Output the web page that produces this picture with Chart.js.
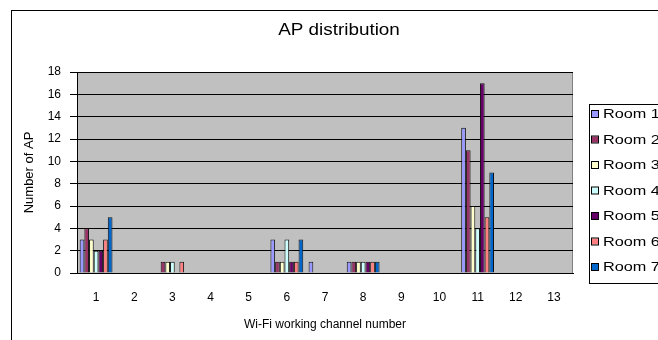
<!DOCTYPE html>
<html lang="en">
<head>
  <meta charset="UTF-8" />
  <title>AP distribution</title>
  <script src="https://cdn.jsdelivr.net/npm/chart.js"></script>
  <style>
    html, body { margin: 0; padding: 0; background: #fff; overflow: hidden; }
    #wrap { width: 658px; height: 340px; overflow: hidden; }
  </style>
</head>
<body>
  <div id="wrap">
    <canvas id="grafico" width="740" height="340"></canvas>
  </div>
  <script>
    // Wi-Fi channels on the x axis
    const channels = ["1", "2", "3", "4", "5", "6", "7", "8", "9", "10", "11", "12", "13"];

    // number of APs seen per channel, one list per room
    const room1 = [3, 0, 0, 0, 0, 3, 1, 1, 0, 0, 13, 0, 0];
    const room2 = [4, 0, 1, 0, 0, 1, 0, 1, 0, 0, 11, 0, 0];
    const room3 = [3, 0, 1, 0, 0, 1, 0, 1, 0, 0, 6, 0, 0];
    const room4 = [2, 0, 1, 0, 0, 3, 0, 1, 0, 0, 4, 0, 0];
    const room5 = [2, 0, 0, 0, 0, 1, 0, 1, 0, 0, 17, 0, 0];
    const room6 = [3, 0, 1, 0, 0, 1, 0, 1, 0, 0, 5, 0, 0];
    const room7 = [5, 0, 0, 0, 0, 3, 0, 1, 0, 0, 9, 0, 0];

    const roomNames = ["Room 1", "Room 2", "Room 3", "Room 4", "Room 5", "Room 6", "Room 7"];
    const roomData = [room1, room2, room3, room4, room5, room6, room7];
    const cores = ["#9999FF", "#993366", "#FFFFCC", "#CCFFFF", "#660066", "#FF8080", "#0066CC"];

    const fonte = "'Liberation Sans', Arial, sans-serif";

    // text a bit stretched sideways, like the original picture
    function textoLargo(ctx, txt, x, y, esc) {
      ctx.save();
      ctx.translate(x, y);
      ctx.scale(esc, 1);
      ctx.fillText(txt, 0, 0);
      ctx.restore();
    }

    // grey plot area, outer frame, title and boxed legend (Excel look)
    const molduraPlugin = {
      id: "moldura",
      beforeDraw(chart) {
        const { ctx, chartArea: a } = chart;
        ctx.save();
        ctx.fillStyle = "#C0C0C0";
        ctx.fillRect(a.left, a.top, a.right - a.left, a.bottom - a.top);
        ctx.strokeStyle = "#808080";
        ctx.lineWidth = 1;
        ctx.strokeRect(a.left + 0.5, a.top + 0.5, a.right - a.left - 1, a.bottom - a.top);
        ctx.restore();
      },
      afterDraw(chart) {
        const ctx = chart.ctx;
        ctx.save();
        // outer chart frame
        ctx.strokeStyle = "#000";
        ctx.lineWidth = 1;
        ctx.strokeRect(11.5, 10.5, 900, 400);

        // title
        ctx.fillStyle = "#000";
        ctx.font = "16px " + fonte;
        ctx.textAlign = "center";
        ctx.textBaseline = "middle";
        textoLargo(ctx, "AP distribution", 339, 31, 1.18);

        // legend box
        ctx.strokeRect(589.5, 104.5, 200, 179);
        ctx.font = "13px " + fonte;
        ctx.textAlign = "left";
        chart.data.datasets.forEach((ds, i) => {
          const y = 114 + i * 25.5;
          ctx.fillStyle = ds.backgroundColor;
          ctx.fillRect(592, y - 3, 6, 6);
          ctx.strokeStyle = "#000";
          ctx.strokeRect(591.5, y - 3.5, 7, 7);
          ctx.fillStyle = "#000";
          textoLargo(ctx, ds.label, 603, y + 0.5, 1.25);
        });
        ctx.restore();
      }
    };

    new Chart(document.getElementById("grafico"), {
      type: "bar",
      data: {
        labels: channels,
        datasets: roomNames.map((nome, i) => ({
          label: nome,
          data: roomData[i],
          backgroundColor: cores[i],
          borderColor: "#111",
          borderWidth: 1,
          categoryPercentage: 0.86,
          barPercentage: 1.0
        }))
      },
      options: {
        responsive: false,
        animation: false,
        layout: { padding: { left: 12, top: 72, right: 167, bottom: 0 } },
        plugins: {
          legend: { display: false },
          title: { display: false },
          tooltip: { enabled: false }
        },
        scales: {
          x: {
            afterFit(scale) { scale.height = 67; },
            grid: { display: false, drawTicks: false },
            border: { display: true, color: "#000", width: 1 },
            ticks: { color: "#000", font: { family: fonte, size: 12 }, padding: 17 },
            title: {
              display: true,
              text: "Wi-Fi working channel number",
              color: "#000",
              font: { family: fonte, size: 12 },
              padding: { top: 0, bottom: 8 }
            }
          },
          y: {
            min: 0,
            max: 18,
            afterFit(scale) { scale.width = 65; },
            ticks: { stepSize: 2, color: "#000", font: { family: fonte, size: 12 }, padding: 9 },
            grid: { color: "#000", tickColor: "#000", tickLength: 7, lineWidth: 1 },
            border: { display: true, color: "#000", width: 1 },
            title: {
              display: true,
              text: "Number of AP",
              color: "#000",
              font: { family: fonte, size: 13 },
              padding: { top: 10, bottom: 0 },
              align: "center"
            }
          }
        }
      },
      plugins: [molduraPlugin]
    });
  </script>
</body>
</html>
